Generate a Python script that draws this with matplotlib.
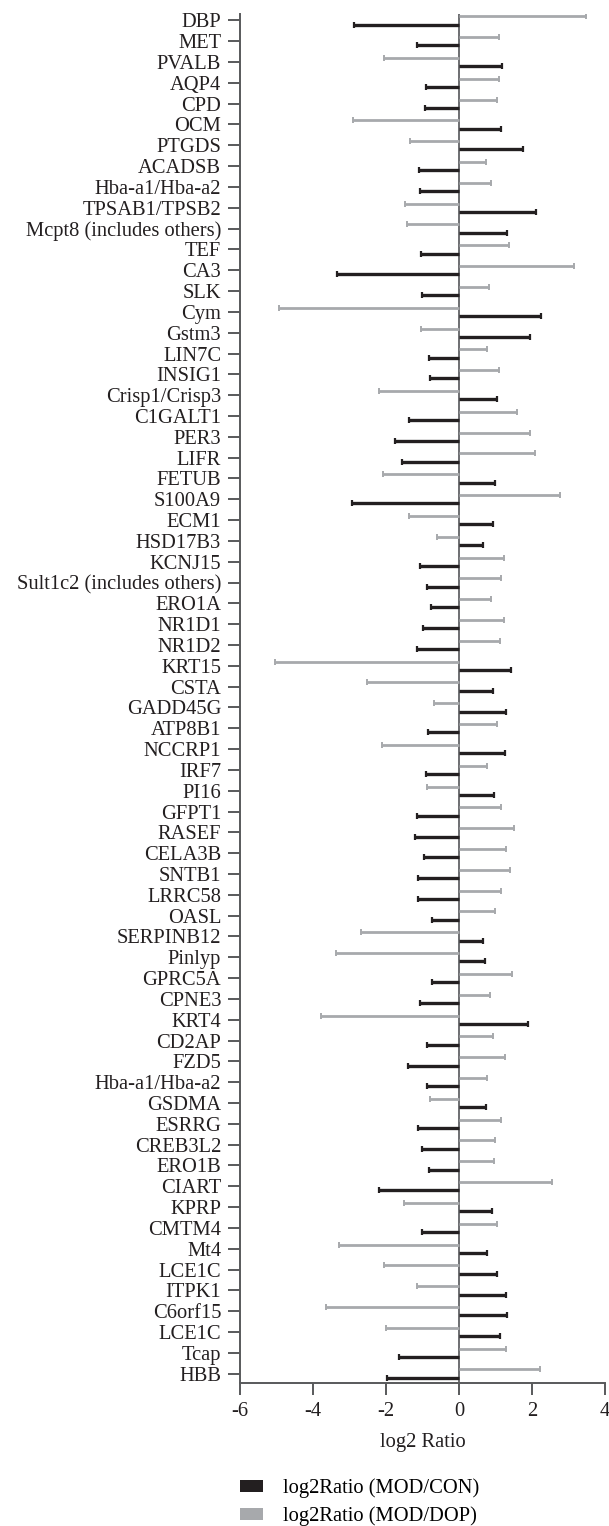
import numpy as np
import matplotlib
matplotlib.use("Agg")
import matplotlib.pyplot as plt
from matplotlib.patches import Patch

genes = ["DBP", "MET", "PVALB", "AQP4", "CPD", "OCM", "PTGDS", "ACADSB",
         "Hba-a1/Hba-a2", "TPSAB1/TPSB2", "Mcpt8 (includes others)", "TEF",
         "CA3", "SLK", "Cym", "Gstm3", "LIN7C", "INSIG1", "Crisp1/Crisp3",
         "C1GALT1", "PER3", "LIFR", "FETUB", "S100A9", "ECM1", "HSD17B3",
         "KCNJ15", "Sult1c2 (includes others)", "ERO1A", "NR1D1", "NR1D2",
         "KRT15", "CSTA", "GADD45G", "ATP8B1", "NCCRP1", "IRF7", "PI16",
         "GFPT1", "RASEF", "CELA3B", "SNTB1", "LRRC58", "OASL", "SERPINB12",
         "Pinlyp", "GPRC5A", "CPNE3", "KRT4", "CD2AP", "FZD5", "Hba-a1/Hba-a2",
         "GSDMA", "ESRRG", "CREB3L2", "ERO1B", "CIART", "KPRP", "CMTM4", "Mt4",
         "LCE1C", "ITPK1", "C6orf15", "LCE1C", "Tcap", "HBB"]

# log2Ratio (MOD/CON)
mod_con = [-2.87, -1.14, 1.17, -0.91, -0.93, 1.14, 1.75, -1.09,
           -1.06, 2.12, 1.31, -1.05,
           -3.35, -1.02, 2.26, 1.95, -0.82, -0.78, 1.05,
           -1.36, -1.76, -1.55, 0.98, -2.92, 0.94, 0.65,
           -1.06, -0.87, -0.77, -0.98, -1.16,
           1.42, 0.94, 1.28, -0.84, 1.25, -0.91, 0.96,
           -1.14, -1.20, -0.95, -1.11, -1.11, -0.73, 0.67,
           0.70, -0.75, -1.06, 1.88, -0.88, -1.40, -0.87,
           0.74, -1.11, -1.00, -0.83, -2.20, 0.91, -1.01, 0.77,
           1.03, 1.28, 1.31, 1.12, -1.63, -1.98]

# log2Ratio (MOD/DOP)
mod_dop = [3.49, 1.09, -2.06, 1.09, 1.05, -2.90, -1.34, 0.74,
           0.89, -1.47, -1.43, 1.37,
           3.14, 0.81, -4.92, -1.05, 0.77, 1.09, -2.20,
           1.58, 1.95, 2.08, -2.09, 2.76, -1.36, -0.60,
           1.24, 1.15, 0.87, 1.24, 1.12,
           -5.03, -2.51, -0.69, 1.05, -2.12, 0.78, -0.87,
           1.14, 1.50, 1.30, 1.39, 1.15, 0.99, -2.69,
           -3.38, 1.44, 0.84, -3.77, 0.94, 1.25, 0.78,
           -0.80, 1.14, 0.99, 0.96, 2.54, -1.50, 1.03, -3.29,
           -2.06, -1.14, -3.63, -2.00, 1.30, 2.22]

black = "#231f20"
grey = "#a7a9ac"
axis_col = "#58595b"

plt.rcParams["font.family"] = ["Liberation Serif", "DejaVu Serif"]
plt.rcParams["font.size"] = 14.8

fig = plt.figure(figsize=(6.09, 15.26), dpi=100)
ax = fig.add_axes([0.394, 0.0937, 0.5994, 0.8973])

y = np.arange(len(genes))
ax.axvline(0, color="#6d6e71", lw=1.4, zorder=1)

ax.hlines(y - 0.2, 0, mod_dop, color=grey, lw=2.0, zorder=2)
ax.plot(mod_dop, y - 0.2, ls="none", marker="|", ms=5, mew=1.4, color=grey, zorder=3)
ax.hlines(y + 0.2, 0, mod_con, color=black, lw=2.4, zorder=2)
ax.plot(mod_con, y + 0.2, ls="none", marker="|", ms=5, mew=1.6, color=black, zorder=3)

ax.set_xlim(-6, 4)
ax.set_ylim(len(genes) - 1 + 0.45, -0.32)
ax.set_xticks(np.arange(-6, 5, 2))
ax.set_xticklabels([str(v) for v in range(-6, 5, 2)])
ax.set_yticks(y)
ax.set_yticklabels(genes)

for s in ["top", "right"]:
    ax.spines[s].set_visible(False)
for s in ["left", "bottom"]:
    ax.spines[s].set_color(axis_col)
    ax.spines[s].set_linewidth(1.4)
ax.tick_params(axis="both", length=8.5, width=1.4, color=axis_col,
               colors="#231f20", pad=5)
ax.set_xlabel("log2 Ratio", labelpad=9, color="#231f20")

handles = [Patch(facecolor=black, edgecolor="none", label="log2Ratio (MOD/CON)"),
           Patch(facecolor=grey, edgecolor="none", label="log2Ratio (MOD/DOP)")]
fig.legend(handles=handles, loc="upper left", bbox_to_anchor=(0.394, 0.031),
           frameon=False, handlelength=1.1, handleheight=0.55, handletextpad=1.0,
           labelspacing=0.4, borderpad=0, borderaxespad=0)

fig.savefig("out.png", dpi=100)
